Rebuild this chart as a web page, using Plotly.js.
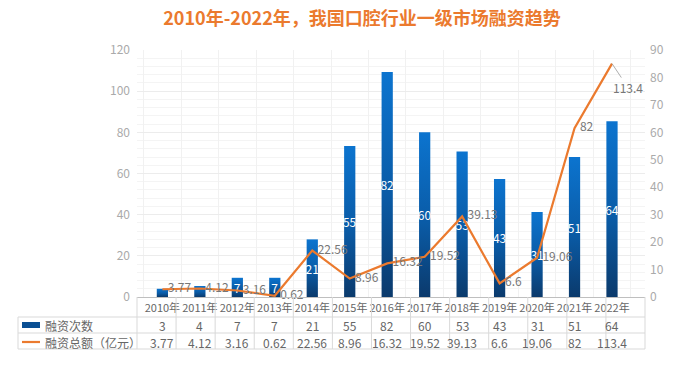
<!DOCTYPE html>
<html>
<head>
<meta charset="utf-8">
<script src="https://cdn.plot.ly/plotly-3.0.1.min.js"></script>
<style>
html,body{margin:0;padding:0;background:#fff;}
#chart{width:683px;height:373px;}
</style>
</head>
<body>
<div id="chart"></div>
<script>
var years = ['2010年','2011年','2012年','2013年','2014年','2015年','2016年','2017年','2018年','2019年','2020年','2021年','2022年'];
var counts = [3,4,7,7,21,55,82,60,53,43,31,51,64];
var totals = [3.77,4.12,3.16,0.62,22.56,8.96,16.32,19.52,39.13,6.6,19.06,82,113.4];
var seriesNames = ['融资次数','融资总额（亿元）'];

var FONT = '"Noto Sans CJK SC", "Noto Sans", sans-serif';
var ORANGE = '#EB7A2E';
var n = years.length;

var barTrace = {
  type:'bar', x: years, y: counts, yaxis:'y', name: seriesNames[0],
  width: 0.3,
  marker:{color:'#0A5AA8', line:{width:0}},
  text: counts.map(function(v){ return v >= 5 ? String(v) : ''; }),
  textposition:'inside', insidetextanchor:'middle', constraintext:'none',
  textfont:{color:'#ffffff', size:12, family:FONT},
  hoverinfo:'skip', showlegend:false
};
var lineText = totals.map(function(v,i){ return i===n-1 ? '' : '\u00a0\u00a0' + String(v); });
var lineTrace = {
  type:'scatter', mode:'lines+text', x: years, y: totals, yaxis:'y2', name: seriesNames[1],
  line:{color:ORANGE, width:2.2},
  text: lineText, textposition:'middle right',
  textfont:{color:'#777', size:12, family:FONT},
  cliponaxis:false, hoverinfo:'skip', showlegend:false
};

var plotTop = 50, plotBot = 297, plotL = 137, plotR = 645;
function py(p){ return (plotBot - p)/(plotBot - plotTop); }
function px(p){ return (p - plotL)/(plotR - plotL); }

var shapes = [];
var annotations = [];
var gridCol = '#d9d9d9';
[317,333,349].forEach(function(yy){
  shapes.push({type:'line', xref:'paper', yref:'paper', x0:px(18), x1:1, y0:py(yy), y1:py(yy), line:{color:gridCol, width:1}});
});
for (var i=0;i<=n;i++){
  shapes.push({type:'line', xref:'paper', yref:'paper', x0:i/n, x1:i/n, y0:py(297), y1:py(349), line:{color:gridCol, width:1}});
}
shapes.push({type:'line', xref:'paper', yref:'paper', x0:px(18), x1:px(18), y0:py(317), y1:py(349), line:{color:gridCol, width:1}});
shapes.push({type:'rect', xref:'paper', yref:'paper', x0:px(22), x1:px(40), y0:py(328), y1:py(322), fillcolor:'#0A4F93', line:{width:0}});
shapes.push({type:'line', xref:'paper', yref:'paper', x0:px(22), x1:px(40), y0:py(342), y1:py(342), line:{color:ORANGE, width:2.2}});

annotations.push({xref:'paper', yref:'paper', x:px(43), y:py(325), text:seriesNames[0], showarrow:false, xanchor:'left', yanchor:'middle', font:{size:12, color:'#666', family:FONT}});
annotations.push({xref:'paper', yref:'paper', x:px(43), y:py(342), text:seriesNames[1], showarrow:false, xanchor:'left', yanchor:'middle', font:{size:12, color:'#666', family:FONT}});

years.forEach(function(yr, i){
  annotations.push({xref:'x', yref:'paper', x:yr, y:py(325), text:String(counts[i]), showarrow:false, yanchor:'middle', font:{size:12, color:'#666', family:FONT}});
  annotations.push({xref:'x', yref:'paper', x:yr, y:py(342), text:String(totals[i]), showarrow:false, yanchor:'middle', font:{size:12, color:'#666', family:FONT}});
});
annotations.push({xref:'x', yref:'y2', x:years[n-1], y:totals[n-1], text:String(totals[n-1]), showarrow:true, arrowhead:0, arrowwidth:0.8, arrowcolor:'#999', ax:16, ay:24, xanchor:'center', font:{size:12, color:'#777', family:FONT}});

var layout = {
  width:683, height:373,
  margin:{l:plotL, r:683-plotR, t:plotTop, b:373-plotBot},
  paper_bgcolor:'#fff', plot_bgcolor:'#fff',
  font:{family:FONT, color:'#999'},
  title:{text:'<b>2010年-2022年，我国口腔行业一级市场融资趋势</b>', x:0.53, xref:'container', xanchor:'center', y:0.95, yref:'container', yanchor:'middle', font:{size:18, color:ORANGE, family:FONT}},
  xaxis:{type:'category', showgrid:true, gridcolor:'#f1f1f1', tickson:'boundaries', ticks:'', showline:true, linecolor:'#bfbfbf', linewidth:1,
         tickangle:0, automargin:false, tickfont:{size:11, color:'#666', family:FONT}, ticklabelstandoff:1, fixedrange:true},
  yaxis:{side:'right', range:[0,90], dtick:10, showgrid:false, zeroline:false, ticks:'', tickfont:{size:12, color:'#aaa'}, ticklabelstandoff:4},
  yaxis2:{side:'left', overlaying:'y', range:[0,120], dtick:20, showgrid:true, gridcolor:'#ececec', gridwidth:1,
          minor:{dtick:4, showgrid:true, gridcolor:'#f4f4f4'}, zeroline:false, ticks:'', tickfont:{size:12, color:'#aaa'}, ticklabelstandoff:6},
  shapes:shapes, annotations:annotations, showlegend:false
};

Plotly.newPlot('chart', [barTrace, lineTrace], layout, {displayModeBar:false, staticPlot:true}).then(function(){
  var svg = document.querySelector('#chart .main-svg');
  var defs = svg.querySelector('defs');
  var ns = 'http://www.w3.org/2000/svg';
  var g = document.createElementNS(ns, 'linearGradient');
  g.setAttribute('id','barGrad'); g.setAttribute('x1','0'); g.setAttribute('y1','0'); g.setAttribute('x2','0'); g.setAttribute('y2','1');
  [['0','#0C74CF'],['0.55','#0A5BA6'],['1','#0B3A6C']].forEach(function(s){
    var st = document.createElementNS(ns,'stop'); st.setAttribute('offset',s[0]); st.setAttribute('stop-color',s[1]); g.appendChild(st);
  });
  defs.appendChild(g);
  document.querySelectorAll('#chart .bars path').forEach(function(p){ p.style.fill = 'url(#barGrad)'; });
});
</script>
</body>
</html>
